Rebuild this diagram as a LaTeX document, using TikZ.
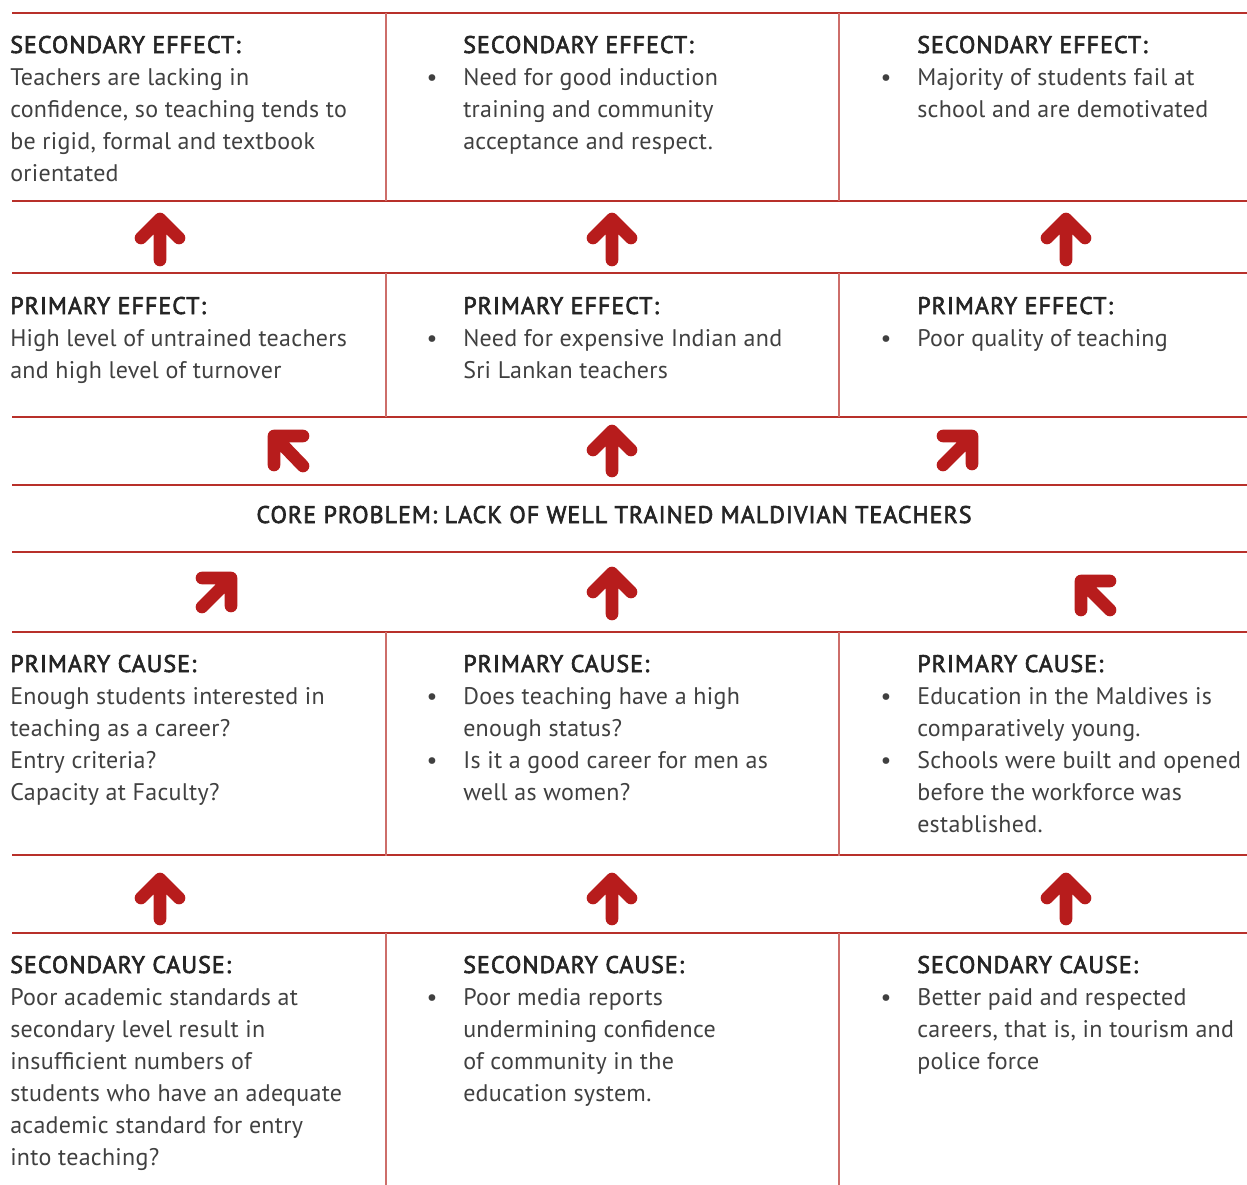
\documentclass[tikz,border=0pt]{standalone}
\usepackage{fontspec}
\setmainfont[LetterSpace=1.2]{PT Sans}
\newfontfamily\hdfont[FakeBold=2.6,LetterSpace=4.2]{PT Sans}
\begin{document}
\begin{tikzpicture}[x=0.75pt,y=-0.75pt,
  grid/.style={draw=gridred,line width=1pt},
  vgrid/.style={draw=gridred!70,line width=1.2pt},
  arr/.style={draw=arrred,line width=9.5pt,line cap=round,line join=round},
  txt/.style={anchor=base west,inner sep=0pt,text=bodygray,font=\fontsize{18}{24}\selectfont},
  hd/.style={anchor=base west,inner sep=0pt,text=headgray,font=\fontsize{18}{24}\hdfont},
  bul/.style={anchor=base,inner sep=0pt,text=bodygray,font=\fontsize{18}{24}\selectfont}]
\definecolor{gridred}{HTML}{B8302A}
\definecolor{arrred}{HTML}{B71C1C}
\definecolor{bodygray}{HTML}{404040}
\definecolor{headgray}{HTML}{252525}
\useasboundingbox (0,0) rectangle (1247,1185);
% horizontal lines
\foreach \yy in {13,201,273,417,485,552,632,855,933}
  \draw[grid] (12,\yy) -- (1247,\yy);
% vertical lines
\foreach \xx in {386,839}{
  \draw[vgrid] (\xx,13) -- (\xx,201);
  \draw[vgrid] (\xx,273) -- (\xx,417);
  \draw[vgrid] (\xx,632) -- (\xx,856);
  \draw[vgrid] (\xx,933) -- (\xx,1185);
}
% arrows row 1 and row 4 (up)
\foreach \xx in {160,612,1066}{
  \draw[arr] (\xx,260) -- (\xx,220) (\xx-19,238) -- (\xx,219) -- (\xx+19,238);
  \draw[arr] (\xx,919) -- (\xx,880) (\xx-19,898) -- (\xx,879) -- (\xx+19,898);
}
% row 2
\draw[arr] (303,466) -- (275,437) (303,436) -- (274,436) -- (274,465);
\draw[arr] (612,471) -- (612,432) (593,450) -- (612,431) -- (631,450);
\draw[arr] (943,465) -- (971,437) (943,436) -- (972,436) -- (972,464);
% row 3
\draw[arr] (202,607) -- (230,579) (202,578) -- (231,578) -- (231,606);
\draw[arr] (612,614) -- (612,574) (593,592) -- (612,573) -- (631,592);
\draw[arr] (1110,610) -- (1082,582) (1110,581) -- (1081,581) -- (1081,610);

% Row 1
\node[hd] (h11) at (10,53) {SECONDARY EFFECT:};
\node[txt] (t11) at (10,85) {\parbox[t]{280pt}{\raggedright Teachers are lacking in\\confidence, so teaching tends to\\be rigid, formal and textbook\\orientated}};
\node[hd] (h12) at (463,53) {SECONDARY EFFECT:};
\node[bul] (b12) at (432,85) {•};
\node[txt] (t12) at (463,85) {\parbox[t]{280pt}{\raggedright Need for good induction\\training and community\\acceptance and respect.}};
\node[hd] (h13) at (917,53) {SECONDARY EFFECT:};
\node[bul] (b13) at (886,85) {•};
\node[txt] (t13) at (917,85) {\parbox[t]{250pt}{\raggedright Majority of students fail at\\school and are demotivated}};

% Row 2
\node[hd] (h21) at (10,314) {PRIMARY EFFECT:};
\node[txt] (t21) at (10,346) {\parbox[t]{280pt}{\raggedright High level of untrained teachers\\and high level of turnover}};
\node[hd] (h22) at (463,314) {PRIMARY EFFECT:};
\node[bul] (b22) at (432,346) {•};
\node[txt] (t22) at (463,346) {\parbox[t]{280pt}{\raggedright Need for expensive Indian and\\Sri Lankan teachers}};
\node[hd] (h23) at (917,314) {PRIMARY EFFECT:};
\node[bul] (b23) at (886,346) {•};
\node[txt] (t23) at (917,346) {Poor quality of teaching};

% Core
\node[hd,anchor=base] (core) at (614,523) {CORE PROBLEM: LACK OF WELL TRAINED MALDIVIAN TEACHERS};

% Row 3
\node[hd] (h31) at (10,672) {PRIMARY CAUSE:};
\node[txt] (t31) at (10,704) {\parbox[t]{280pt}{\raggedright Enough students interested in\\teaching as a career?\\Entry criteria?\\Capacity at Faculty?}};
\node[hd] (h32) at (463,672) {PRIMARY CAUSE:};
\node[bul] (b32a) at (432,704) {•};
\node[txt] (t32a) at (463,704) {\parbox[t]{280pt}{\raggedright Does teaching have a high\\enough status?}};
\node[bul] (b32b) at (432,768) {•};
\node[txt] (t32b) at (463,768) {\parbox[t]{280pt}{\raggedright Is it a good career for men as\\well as women?}};
\node[hd] (h33) at (917,672) {PRIMARY CAUSE:};
\node[bul] (b33a) at (886,704) {•};
\node[txt] (t33a) at (917,704) {\parbox[t]{250pt}{\raggedright Education in the Maldives is\\comparatively young.}};
\node[bul] (b33b) at (886,768) {•};
\node[txt] (t33b) at (917,768) {\parbox[t]{250pt}{\raggedright Schools were built and opened\\before the workforce was\\established.}};

% Row 4
\node[hd] (h41) at (10,973) {SECONDARY CAUSE:};
\node[txt] (t41) at (10,1005) {\parbox[t]{280pt}{\raggedright Poor academic standards at\\secondary level result in\\insufficient numbers of\\students who have an adequate\\academic standard for entry\\into teaching?}};
\node[hd] (h42) at (463,973) {SECONDARY CAUSE:};
\node[bul] (b42) at (432,1005) {•};
\node[txt] (t42) at (463,1005) {\parbox[t]{280pt}{\raggedright Poor media reports\\undermining confidence\\of community in the\\education system.}};
\node[hd] (h43) at (917,973) {SECONDARY CAUSE:};
\node[bul] (b43) at (886,1005) {•};
\node[txt] (t43) at (917,1005) {\parbox[t]{250pt}{\raggedright Better paid and respected\\careers, that is, in tourism and\\police force}};
\end{tikzpicture}
\end{document}
